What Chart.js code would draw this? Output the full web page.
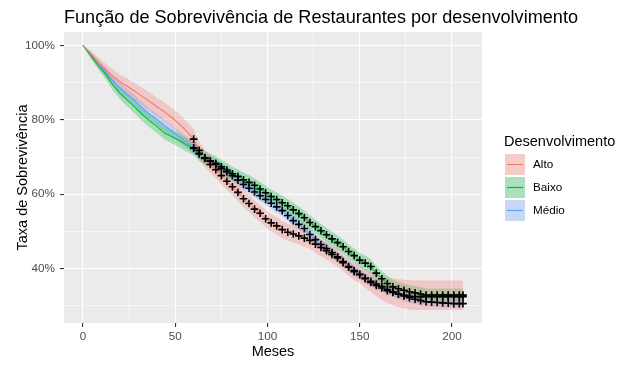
<!DOCTYPE html>
<html>
<head>
<meta charset="utf-8">
<script src="https://cdn.jsdelivr.net/npm/chart.js@4.4.0/dist/chart.umd.min.js"></script>
<style>
  body { margin: 0; background: #fff; }
  canvas { display: block; }
</style>
</head>
<body>
<canvas id="grafico" width="631" height="368"></canvas>
<script>
const fonte = '"Liberation Sans", Arial, sans-serif';

const grupos = ['Alto', 'Baixo', 'Médio'];
const cores = ['248, 118, 109', '0, 186, 56', '97, 156, 255'];

const meses = [0, 4, 8, 12, 16, 20, 24, 28, 32, 36, 40, 44, 48, 52, 56, 60,
    63, 66, 69, 72, 75, 78, 81, 84, 87, 90, 93, 96, 99, 102, 105, 108, 111, 114, 117, 120,
    123, 126, 129, 132, 135, 138, 141, 144, 147, 150, 153, 156, 159, 162, 165, 168, 171, 174, 177, 180,
    183, 186, 189, 192, 195, 198, 201, 204, 206];

// taxa de sobrevivencia (%)
const alto = [100, 97.8, 95.6, 93.6, 91.8, 90.2, 89.0, 87.7, 86.3, 85.0, 83.5, 82.2, 80.7, 79.0, 77.0, 74.8,
    71.8, 69.6, 68.0, 66.6, 65.0, 63.5, 62.0, 60.5, 58.8, 57.5, 56.0, 54.9, 53.4, 52.3, 51.5, 50.5, 49.8, 49.3, 48.8, 48.2,
    47.6, 46.6, 45.7, 44.8, 43.8, 42.9, 41.6, 40.4, 39.2, 38.4, 37.3, 36.3, 35.5, 34.8, 34.1, 33.6, 33.2, 32.9, 32.6, 32.5,
    32.5, 32.5, 32.5, 32.5, 32.5, 32.5, 32.5, 32.5, 32.5];
const altoInf = [100, 97.0, 94.3, 92.0, 90.0, 88.2, 86.9, 85.5, 84.0, 82.6, 81.1, 79.7, 78.2, 76.4, 74.4, 72.2,
    69.5, 67.3, 65.7, 64.3, 62.7, 61.2, 59.7, 58.2, 56.5, 55.2, 53.7, 52.6, 51.1, 50.0, 49.2, 48.2, 47.5, 47.0, 46.5, 45.9,
    45.3, 44.3, 43.4, 42.5, 41.5, 40.6, 39.3, 38.1, 36.9, 36.1, 34.9, 33.7, 32.6, 31.6, 30.8, 30.2, 29.6, 29.3, 29.0, 28.9,
    28.9, 28.9, 28.9, 28.9, 28.9, 28.9, 28.9, 28.9, 28.9];
const altoSup = [100, 98.6, 96.9, 95.2, 93.6, 92.2, 91.1, 89.9, 88.6, 87.4, 85.9, 84.7, 83.2, 81.6, 79.6, 77.4,
    74.1, 71.9, 70.3, 68.9, 67.3, 65.8, 64.3, 62.8, 61.1, 59.8, 58.3, 57.2, 55.7, 54.6, 53.8, 52.8, 52.1, 51.6, 51.1, 50.5,
    49.9, 48.9, 48.0, 47.1, 46.1, 45.2, 43.9, 42.7, 41.5, 40.7, 39.7, 39.0, 38.6, 38.2, 37.7, 37.4, 37.2, 37.0, 36.9, 36.8,
    36.8, 36.8, 36.8, 36.8, 36.8, 36.8, 36.8, 36.8, 36.8];

const baixo = [100, 97.4, 94.8, 92.4, 89.5, 87.2, 85.3, 83.5, 81.5, 79.8, 78.3, 76.5, 75.5, 74.5, 73.3, 72.3,
    70.8, 69.8, 69.0, 68.3, 67.4, 66.5, 65.5, 64.8, 63.9, 63.2, 62.4, 61.4, 60.4, 59.4, 58.6, 57.7, 56.9, 55.8, 54.8, 53.7,
    52.4, 51.3, 50.2, 49.1, 48.0, 47.0, 45.9, 44.6, 43.5, 42.3, 41.5, 40.6, 38.8, 37.3, 36.0, 35.1, 34.6, 34.2, 33.8, 33.5,
    33.2, 32.9, 32.9, 32.9, 32.9, 32.9, 32.9, 32.9, 32.9];
const baixoInf = [100, 96.6, 93.7, 91.1, 88.0, 85.6, 83.6, 81.7, 79.7, 78.0, 76.5, 74.7, 73.7, 72.7, 71.5, 70.5,
    68.9, 67.9, 67.1, 66.4, 65.5, 64.6, 63.6, 62.9, 62.0, 61.3, 60.5, 59.5, 58.5, 57.5, 56.7, 55.8, 55.0, 53.9, 52.9, 51.8,
    50.5, 49.4, 48.3, 47.2, 46.1, 45.1, 44.0, 42.7, 41.6, 40.4, 39.5, 38.6, 36.8, 35.3, 34.0, 33.2, 32.8, 32.4, 32.0, 31.7,
    31.4, 31.1, 31.1, 31.1, 31.1, 31.1, 31.1, 31.1, 31.1];
const baixoSup = [100, 98.2, 95.9, 93.7, 91.0, 88.8, 87.0, 85.3, 83.3, 81.6, 80.1, 78.3, 77.3, 76.3, 75.1, 74.1,
    72.7, 71.7, 70.9, 70.2, 69.3, 68.4, 67.4, 66.7, 65.8, 65.1, 64.3, 63.3, 62.3, 61.3, 60.5, 59.6, 58.8, 57.7, 56.7, 55.6,
    54.3, 53.2, 52.1, 51.0, 49.9, 48.9, 47.8, 46.5, 45.4, 44.2, 43.5, 42.6, 40.8, 39.3, 38.0, 37.0, 36.4, 36.0, 35.6, 35.3,
    35.0, 34.7, 34.7, 34.7, 34.7, 34.7, 34.7, 34.7, 34.7];

const medio = [100, 97.6, 95.2, 93.0, 90.6, 88.5, 86.8, 85.2, 83.3, 81.5, 80.2, 78.5, 77.0, 75.5, 74.0, 72.5,
    71.0, 69.8, 68.9, 68.0, 67.0, 66.0, 65.0, 63.8, 62.6, 61.6, 60.6, 59.6, 58.6, 57.6, 56.6, 55.6, 54.3, 52.9, 51.9, 50.8,
    49.2, 47.8, 46.5, 45.4, 44.3, 43.2, 41.9, 40.6, 39.5, 38.5, 37.5, 36.6, 35.9, 35.2, 34.4, 33.8, 33.2, 32.7, 32.2, 31.8,
    31.4, 31.1, 31.0, 30.9, 30.8, 30.7, 30.6, 30.6, 30.6];
const medioInf = [100, 96.9, 94.2, 91.8, 89.3, 87.0, 85.3, 83.7, 81.8, 80.0, 78.7, 77.0, 75.5, 74.0, 72.5, 71.0,
    69.5, 68.3, 67.4, 66.5, 65.5, 64.5, 63.5, 62.3, 61.1, 60.1, 59.1, 58.1, 57.1, 56.1, 55.1, 54.1, 52.8, 51.4, 50.4, 49.3,
    47.7, 46.3, 45.0, 43.9, 42.8, 41.7, 40.4, 39.1, 38.0, 37.0, 36.1, 35.2, 34.5, 33.8, 33.0, 32.4, 31.8, 31.3, 30.8, 30.5,
    30.1, 29.9, 29.8, 29.7, 29.6, 29.5, 29.4, 29.4, 29.4];
const medioSup = [100, 98.3, 96.2, 94.2, 91.9, 90.0, 88.3, 86.7, 84.8, 83.0, 81.7, 80.0, 78.5, 77.0, 75.5, 74.0,
    72.5, 71.3, 70.4, 69.5, 68.5, 67.5, 66.5, 65.3, 64.1, 63.1, 62.1, 61.1, 60.1, 59.1, 58.1, 57.1, 55.8, 54.4, 53.4, 52.3,
    50.7, 49.3, 48.0, 46.9, 45.8, 44.7, 43.4, 42.1, 41.0, 40.0, 38.9, 38.0, 37.3, 36.6, 35.8, 35.2, 34.6, 34.1, 33.6, 33.1,
    32.7, 32.3, 32.2, 32.1, 32.0, 31.9, 31.8, 31.8, 31.8];

const xGrade = [0, 25, 50, 75, 100, 125, 150, 175, 200];
const yGrade = [30, 40, 50, 60, 70, 80, 90, 100];
const censuraInicio = 60;

const curvas = [alto, baixo, medio];
const inferiores = [altoInf, baixoInf, medioInf];
const superiores = [altoSup, baixoSup, medioSup];

function pontos(valores) {
    return meses.map((m, i) => ({ x: m, y: valores[i] }));
}

const datasets = [];
grupos.forEach((g, k) => {
    datasets.push({
        label: g + ' inf', data: pontos(inferiores[k]),
        borderWidth: 0, pointRadius: 0, fill: false, order: 3
    });
    datasets.push({
        label: g + ' sup', data: pontos(superiores[k]),
        borderWidth: 0, pointRadius: 0, order: 3,
        fill: '-1', backgroundColor: 'rgba(' + cores[k] + ', 0.3)'
    });
});
grupos.forEach((g, k) => {
    datasets.push({
        label: g, data: pontos(curvas[k]),
        borderColor: 'rgb(' + cores[k] + ')', borderWidth: 1.1,
        pointRadius: 0, fill: false, order: 2
    });
});
grupos.forEach((g, k) => {
    datasets.push({
        label: g + ' censura',
        data: pontos(curvas[k]).filter(p => p.x >= censuraInicio),
        showLine: false, pointStyle: 'cross', pointRadius: 3.8,
        pointBorderColor: '#000', pointBorderWidth: 1.6, order: 1
    });
});

const painel = {
    id: 'painel',
    beforeDraw(chart) {
        const { ctx, chartArea: a } = chart;
        ctx.save();
        ctx.fillStyle = '#fff';
        ctx.fillRect(0, 0, chart.width, chart.height);
        ctx.fillStyle = '#EBEBEB';
        ctx.fillRect(a.left, a.top, a.right - a.left, a.bottom - a.top);
        ctx.restore();
    },
    afterDraw(chart) {
        const ctx = chart.ctx;
        ctx.save();
        ctx.fillStyle = '#000';
        ctx.textBaseline = 'alphabetic';
        ctx.font = '18.1px ' + fonte;
        ctx.fillText('Função de Sobrevivência de Restaurantes por desenvolvimento', 64, 23);

        // legenda
        ctx.font = '14.5px ' + fonte;
        ctx.fillText('Desenvolvimento', 504, 146);
        grupos.forEach((g, k) => {
            const y = 154 + k * 23;
            ctx.fillStyle = '#F2F2F2';
            ctx.fillRect(505, y, 20, 21);
            ctx.fillStyle = 'rgba(' + cores[k] + ', 0.3)';
            ctx.fillRect(505, y, 20, 21);
            ctx.strokeStyle = 'rgb(' + cores[k] + ')';
            ctx.lineWidth = 1.1;
            ctx.beginPath();
            ctx.moveTo(507, y + 10.5);
            ctx.lineTo(523, y + 10.5);
            ctx.stroke();
            ctx.fillStyle = '#000';
            ctx.font = '11.7px ' + fonte;
            ctx.textBaseline = 'middle';
            ctx.fillText(g, 533, y + 11);
        });
        ctx.restore();
    }
};

const principal = (v, passo) => Math.abs(v % passo) < 1e-6;

new Chart(document.getElementById('grafico'), {
    type: 'line',
    data: { datasets: datasets },
    options: {
        responsive: false,
        animation: false,
        events: [],
        layout: { padding: { left: 0, right: 149, top: 32, bottom: 0 } },
        plugins: { legend: { display: false }, tooltip: { enabled: false } },
        scales: {
            x: {
                type: 'linear', min: -10.3, max: 216.3,
                afterBuildTicks: s => { s.ticks = xGrade.map(v => ({ value: v })); },
                afterFit: s => { s.height = 45; },
                border: { display: false },
                grid: {
                    color: '#fff',
                    lineWidth: c => c.tick && principal(c.tick.value, 50) ? 1.1 : 0.55,
                    tickLength: 4, tickWidth: 1.1,
                    tickColor: c => c.tick && principal(c.tick.value, 50) ? '#333' : 'rgba(0,0,0,0)'
                },
                ticks: {
                    autoSkip: false, maxRotation: 0, padding: 3, color: '#4D4D4D',
                    font: { family: fonte, size: 11.7 },
                    callback: v => principal(v, 50) ? v : ''
                },
                title: {
                    display: true, text: 'Meses', color: '#000',
                    font: { family: fonte, size: 14.5 }, padding: { top: 0, bottom: 7 }
                }
            },
            y: {
                type: 'linear', min: 25.4, max: 103.6,
                afterBuildTicks: s => { s.ticks = yGrade.map(v => ({ value: v })); },
                afterFit: s => { s.width = 64; },
                border: { display: false },
                grid: {
                    color: '#fff',
                    lineWidth: c => c.tick && principal(c.tick.value, 20) ? 1.1 : 0.55,
                    tickLength: 4, tickWidth: 1.1,
                    tickColor: c => c.tick && principal(c.tick.value, 20) ? '#333' : 'rgba(0,0,0,0)'
                },
                ticks: {
                    autoSkip: false, padding: 5, color: '#4D4D4D',
                    font: { family: fonte, size: 11.7 },
                    callback: v => principal(v, 20) ? v + '%' : ''
                },
                title: {
                    display: true, text: 'Taxa de Sobrevivência', color: '#000',
                    font: { family: fonte, size: 14.5 }, padding: { top: 14, bottom: 0 }
                }
            }
        }
    },
    plugins: [painel]
});
</script>
</body>
</html>
